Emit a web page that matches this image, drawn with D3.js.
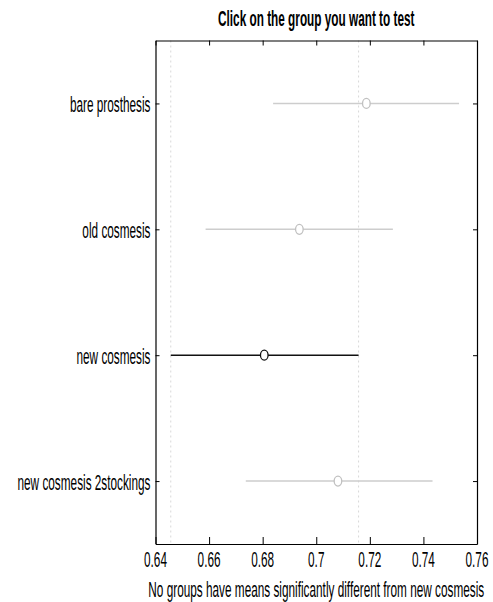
<!DOCTYPE html>
<html lang="en">
<head>
  <meta charset="UTF-8">
  <title>Multiple comparison of means</title>
  <script src="https://d3js.org/d3.v7.min.js"></script>
  <style>
    body {
      margin: 0;
      background-color: #fff;
    }
    svg text {
      font-family: "Liberation Sans Narrow", "Arial Narrow", "Liberation Sans", Arial, sans-serif;
      fill: #000;
    }
    .ci {
      stroke-width: 1.5px;
    }
  </style>
</head>
<body>
  <svg width="493" height="602"></svg>

  <script>
    const groups = ["bare prosthesis", "old cosmesis", "new cosmesis", "new cosmesis 2stockings"];
    const means = [0.7187, 0.6937, 0.6806, 0.7081];
    const lower = [0.6839, 0.6587, 0.6457, 0.6737];
    const upper = [0.7533, 0.7286, 0.7158, 0.7434];
    const xTicks = [0.64, 0.66, 0.68, 0.70, 0.72, 0.74, 0.76];
    const selected = "new cosmesis";

    const titleText = "Click on the group you want to test";
    const xLabelText = "No groups have means significantly different from new cosmesis";

    const svg = d3.select("svg"),
          margin = {top: 40.5, right: 16, bottom: 58, left: 155.5},
          width = +svg.attr("width") - margin.left - margin.right,
          height = +svg.attr("height") - margin.top - margin.bottom;

    // text in the picture is narrow and stretched vertically
    const stretchY = 1.42;
    const fontSize = 16;

    const g = svg.append("g").attr("transform", `translate(${margin.left},${margin.top})`);

    const x = d3.scaleLinear().domain([0.64, 0.76]).range([0, width]);
    const y = d3.scaleLinear().domain([0.5, groups.length + 0.5]).range([0, height]);

    const data = groups.map((name, i) => ({
      name, mean: means[i], lo: lower[i], hi: upper[i], pos: i + 1
    }));
    const sel = data.find(d => d.name === selected);

    // dotted reference lines at the selected group's interval
    g.selectAll(".ref")
      .data([sel.lo, sel.hi])
      .enter()
      .append("line")
      .attr("class", "ref")
      .attr("x1", d => x(d)).attr("x2", d => x(d))
      .attr("y1", 0).attr("y2", height)
      .attr("stroke", "#d8d8d8")
      .attr("stroke-width", 1)
      .attr("stroke-dasharray", "2,3");

    // intervals
    g.selectAll(".ci")
      .data(data)
      .enter()
      .append("line")
      .attr("class", "ci")
      .attr("x1", d => x(d.lo)).attr("x2", d => x(d.hi))
      .attr("y1", d => y(d.pos)).attr("y2", d => y(d.pos))
      .attr("stroke", d => d.name === selected ? "#111" : "#cdcdcd");

    g.selectAll(".mean")
      .data(data)
      .enter()
      .append("ellipse")
      .attr("class", "mean")
      .attr("cx", d => x(d.mean))
      .attr("cy", d => y(d.pos))
      .attr("rx", 3.8).attr("ry", 5)
      .attr("fill", "#fff")
      .attr("stroke", d => d.name === selected ? "#111" : "#c0c0c0")
      .attr("stroke-width", 1.3);

    // axes box with inward ticks
    g.append("g")
      .attr("transform", `translate(0,${height})`)
      .call(d3.axisBottom(x).tickValues(xTicks).tickSizeInner(-7).tickSizeOuter(0).tickFormat(""));

    g.append("g")
      .call(d3.axisTop(x).tickValues(xTicks).tickSizeInner(-5).tickSizeOuter(0).tickFormat(""));

    g.append("g")
      .call(d3.axisLeft(y).tickValues(data.map(d => d.pos)).tickSizeInner(-4).tickSizeOuter(0).tickFormat(""));

    g.append("g")
      .attr("transform", `translate(${width},0)`)
      .call(d3.axisRight(y).tickValues(data.map(d => d.pos)).tickSizeInner(-4).tickSizeOuter(0).tickFormat(""));

    g.selectAll(".domain").attr("stroke", "#000").attr("stroke-width", 1.2);
    g.selectAll(".tick line").attr("stroke", "#000");

    // measure the caption to find how narrow the font has to be
    const probe = svg.append("text").style("font-size", fontSize + "px").text(xLabelText);
    const stretchX = 336 / probe.node().getComputedTextLength();
    probe.remove();

    function label(parent, tx, ty, str, anchor) {
      return parent.append("text")
        .attr("transform", `translate(${tx},${ty}) scale(${stretchX},${stretchY})`)
        .attr("text-anchor", anchor)
        .style("font-size", fontSize + "px")
        .text(str);
    }

    xTicks.forEach(t => {
      label(g, x(t), height + 23, d3.format("")(t), "middle");
    });

    data.forEach(d => {
      label(g, -5, y(d.pos) + 9, d.name, "end");
    });

    label(svg, margin.left + width / 2, 26, titleText, "middle").style("font-weight", "bold");
    label(svg, margin.left + width / 2, 597, xLabelText, "middle");
  </script>
</body>
</html>
